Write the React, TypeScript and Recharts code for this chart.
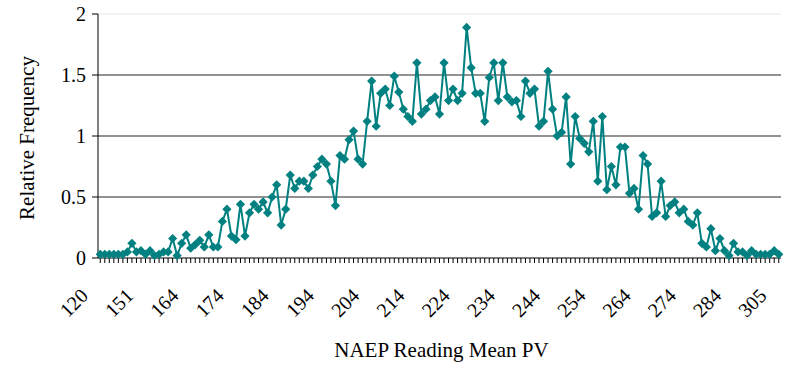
import React from 'react';
import { LineChart, Line, XAxis, YAxis, ReferenceLine } from 'recharts';

// NAEP Reading Mean PV categories (151 categories, one every 10 labelled)
const scores: number[] = [
  120, 127, 132, 136, 139, 142, 144, 146, 148, 150,
  151, 152, 153, 155, 156, 157, 159, 160, 161, 163,
  164, 165, 166, 167, 168, 169, 170, 171, 172, 173,
  174, 175, 176, 177, 178, 179, 180, 181, 182, 183,
  184, 185, 186, 187, 188, 189, 190, 191, 192, 193,
  194, 195, 196, 197, 198, 199, 200, 201, 202, 203,
  204, 205, 206, 207, 208, 209, 210, 211, 212, 213,
  214, 215, 216, 217, 218, 219, 220, 221, 222, 223,
  224, 225, 226, 227, 228, 229, 230, 231, 232, 233,
  234, 235, 236, 237, 238, 239, 240, 241, 242, 243,
  244, 245, 246, 247, 248, 249, 250, 251, 252, 253,
  254, 255, 256, 257, 258, 259, 260, 261, 262, 263,
  264, 265, 266, 267, 268, 269, 270, 271, 272, 273,
  274, 275, 276, 277, 278, 279, 280, 281, 282, 283,
  284, 286, 288, 290, 292, 294, 296, 298, 300, 302,
  305,
];

// Relative frequency
const relFreq: number[] = [
  0.03, 0.03, 0.03, 0.03, 0.03, 0.03, 0.05, 0.12, 0.05, 0.06,
  0.03, 0.06, 0.02, 0.03, 0.05, 0.05, 0.16, 0.02, 0.12, 0.19,
  0.08, 0.11, 0.145, 0.09, 0.19, 0.09, 0.09, 0.30, 0.40, 0.18,
  0.15, 0.44, 0.18, 0.37, 0.44, 0.40, 0.46, 0.37, 0.50, 0.60,
  0.27, 0.40, 0.68, 0.57, 0.63, 0.63, 0.57, 0.68, 0.75, 0.81,
  0.77, 0.63, 0.43, 0.84, 0.81, 0.97, 1.04, 0.81, 0.77, 1.12,
  1.45, 1.08, 1.35, 1.385, 1.25, 1.49, 1.36, 1.22, 1.16, 1.12,
  1.60, 1.18, 1.22, 1.29, 1.32, 1.18, 1.60, 1.29, 1.385, 1.29,
  1.35, 1.89, 1.56, 1.35, 1.35, 1.12, 1.48, 1.60, 1.29, 1.60,
  1.32, 1.28, 1.29, 1.16, 1.45, 1.35, 1.385, 1.08, 1.12, 1.53,
  1.22, 1.00, 1.03, 1.32, 0.77, 1.16, 0.98, 0.94, 0.87, 1.12,
  0.63, 1.16, 0.56, 0.75, 0.60, 0.91, 0.91, 0.53, 0.57, 0.40,
  0.84, 0.77, 0.34, 0.37, 0.63, 0.34, 0.43, 0.46, 0.37, 0.40,
  0.30, 0.27, 0.37, 0.12, 0.09, 0.24, 0.06, 0.16, 0.06, 0.02,
  0.12, 0.05, 0.05, 0.02, 0.06, 0.03, 0.03, 0.03, 0.03, 0.06,
  0.03,
];

const yTicks: number[] = [0, 0.5, 1, 1.5, 2];
const gridValues: number[] = [0.5, 1, 1.5];
const LABEL_EVERY = 10;

const xTitle = 'NAEP Reading Mean PV';
const yTitle = 'Relative Frequency';

const data = scores.map((s, i) => ({ score: s, freq: relFreq[i] }));

const FONT = '"Liberation Serif", "Times New Roman", serif';
const TEAL = '#008080';
const textStyle: React.CSSProperties = { fontFamily: FONT, fill: '#000' };

const Diamond = (props: any) => {
  const { cx, cy, index } = props;
  if (cx == null || cy == null) return null;
  const r = 4.6;
  return (
    <path
      key={`d-${index}`}
      d={`M${cx},${cy - r}L${cx + r},${cy}L${cx},${cy + r}L${cx - r},${cy}Z`}
      fill={TEAL}
      stroke="none"
    />
  );
};

const XTick = (props: any) => {
  const { x, y, payload, index } = props;
  if (index % LABEL_EVERY !== 0) return null;
  return (
    <g transform={`translate(${x - 11},${y + 32})`}>
      <text
        x={0}
        y={0}
        textAnchor="end"
        transform="rotate(-45)"
        style={{ ...textStyle, fontSize: 20 }}
      >
        {payload.value}
      </text>
    </g>
  );
};

const YTick = (props: any) => {
  const { x, y, payload } = props;
  return (
    <text
      x={x}
      y={y}
      dy={7}
      textAnchor="end"
      style={{ ...textStyle, fontSize: 20 }}
    >
      {payload.value}
    </text>
  );
};

const renderYTitle = (props: any) => {
  const vb = props && props.viewBox ? props.viewBox : {};
  const cy = (vb.y ?? 14) + (vb.height ?? 244) / 2 + 2;
  const cx = 27;
  return (
    <text
      x={cx}
      y={cy}
      transform={`rotate(-90, ${cx}, ${cy})`}
      textAnchor="middle"
      dominantBaseline="central"
      style={{ ...textStyle, fontSize: 21 }}
    >
      {yTitle}
    </text>
  );
};

const renderXTitle = (props: any) => {
  const vb = props && props.viewBox ? props.viewBox : {};
  const cx = (vb.x ?? 98) + (vb.width ?? 683) / 2 + 2;
  return (
    <text
      x={cx}
      y={357}
      textAnchor="middle"
      style={{ ...textStyle, fontSize: 21 }}
    >
      {xTitle}
    </text>
  );
};

export default function App() {
  return (
    <div style={{ position: 'absolute', left: 0, top: 0, background: '#fff' }}>
      <LineChart
        width={786}
        height={365}
        data={data}
        margin={{ top: 14, right: 5, bottom: 0, left: 38 }}
      >
        <ReferenceLine y={2} stroke="#e6e6e6" strokeWidth={1} ifOverflow="visible" />
        {gridValues.map((v) => (
          <ReferenceLine key={v} y={v} stroke="#6e6e6e" strokeWidth={1.5} />
        ))}
        <XAxis
          dataKey="score"
          type="category"
          scale="band"
          interval={0}
          height={107}
          axisLine={{ stroke: '#000', strokeWidth: 1 }}
          tickLine={{ stroke: '#000', strokeWidth: 1 }}
          tickSize={5}
          tick={<XTick />}
          label={renderXTitle}
        />
        <YAxis
          domain={[0, 2]}
          ticks={yTicks}
          interval={0}
          width={60}
          axisLine={{ stroke: '#000', strokeWidth: 1 }}
          tickLine={{ stroke: '#000', strokeWidth: 1 }}
          tickSize={6}
          tickMargin={6}
          tick={<YTick />}
          label={renderYTitle}
        />
        <Line
          type="linear"
          dataKey="freq"
          stroke={TEAL}
          strokeWidth={2}
          dot={<Diamond />}
          activeDot={false}
          isAnimationActive={false}
        />
      </LineChart>
    </div>
  );
}
